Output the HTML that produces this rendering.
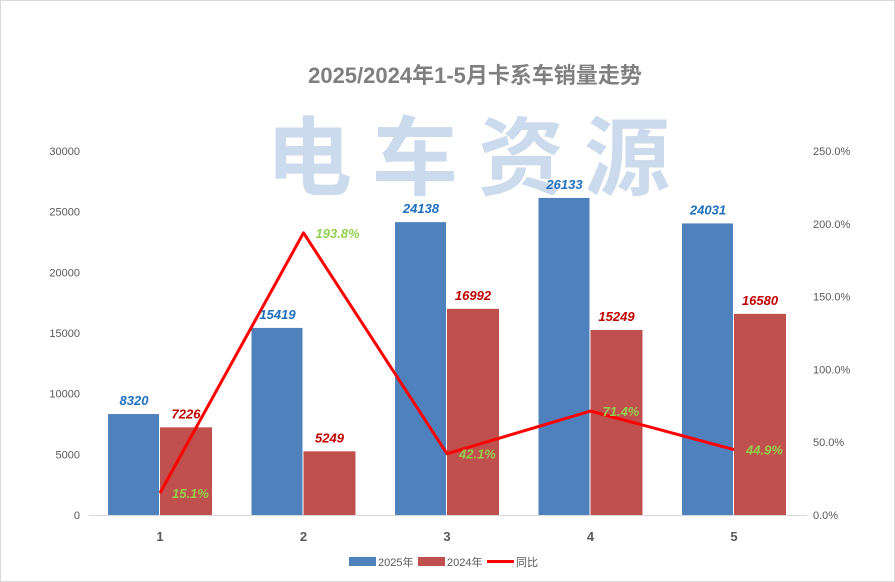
<!DOCTYPE html>
<html><head><meta charset="utf-8"><style>
body{margin:0;background:#fff;}
#c{position:relative;width:895px;height:582px;overflow:hidden;}
svg{position:absolute;left:0;top:0;}
</style></head><body>
<div id="c">
<svg id="s" width="895" height="582" xmlns="http://www.w3.org/2000/svg" font-family="Liberation Sans, Noto Sans CJK SC, sans-serif">
<rect x="0.5" y="0.5" width="894" height="581" fill="#fff" stroke="#d9d9d9"/>
<text x="475" y="83" text-anchor="middle" font-size="22" font-weight="bold" fill="#7f7f7f">2025/2024年1-5月卡系车销量走势</text>
<text x="478" y="188" text-anchor="middle" font-size="86" font-weight="bold" fill="#c9d9ec" opacity="0.95" letter-spacing="20">电车资源</text>
<g id="grid"></g><g id="bars"></g><g id="line"></g><g id="labels"></g>
<g font-size="11" fill="#595959">
<rect x="349" y="557" width="27" height="9" fill="#4f81bd"/>
<text x="378" y="566" fill="#595959">2025年</text>
<rect x="418" y="557" width="27" height="9" fill="#c0504d"/>
<text x="447" y="566" fill="#595959">2024年</text>
<line x1="487" y1="561.5" x2="514" y2="561.5" stroke="#ff0000" stroke-width="3"/>
<text x="516" y="566" fill="#595959">同比</text>
</g>
</svg>
</div>
<script>
const categories=["1","2","3","4","5"];
const sales2025=[8320,15419,24138,26133,24031];
const sales2024=[7226,5249,16992,15249,16580];
const yoy=[15.1,193.8,42.1,71.4,44.9];
const leftTicks=[0,5000,10000,15000,20000,25000,30000];
const rightTicks=[0,50,100,150,200,250];
const NS="http://www.w3.org/2000/svg";
const y0=515,yTop=151;
const yL=v=>y0-(v/30000)*(y0-yTop);
const yR=v=>y0-(v/250)*(y0-yTop);
const xC=i=>160+i*143.5;
function mk(t,a,p,txt){const e=document.createElementNS(NS,t);for(const k in a)e.setAttribute(k,a[k]);if(txt!==undefined)e.textContent=txt;p.appendChild(e);return e;}
const g=document.getElementById('grid'),b=document.getElementById('bars'),l=document.getElementById('line'),lb=document.getElementById('labels');
let ax=mk('line',{x1:89,x2:807,y1:y0+0.5,y2:y0+0.5,stroke:'#d9d9d9'},g);


leftTicks.forEach(v=>{const t=mk('text',{x:80,y:yL(v)+4,'text-anchor':'end','font-size':11,fill:'#595959'},g,String(v));

});
rightTicks.forEach(v=>{const t=mk('text',{x:813,y:yR(v)+4,'font-size':11,fill:'#595959'},g,v.toFixed(1)+'%');

});
categories.forEach((c,i)=>{const t=mk('text',{x:xC(i),y:541,'text-anchor':'middle','font-size':13,'font-weight':'bold',fill:'#595959'},g,c);


const cx=xC(i);
const r1=mk('rect',{x:cx-52,y:yL(sales2025[i]),width:51,height:y0-yL(sales2025[i]),fill:'#4f81bd'},b);


const r2=mk('rect',{x:cx,y:yL(sales2024[i]),width:52,height:y0-yL(sales2024[i]),fill:'#c0504d'},b);


const t1=mk('text',{x:cx-26,y:yL(sales2025[i])-9,'text-anchor':'middle','font-size':13,'font-weight':'bold','font-style':'italic',fill:'#1f6fbf'},lb,String(sales2025[i]));


const t2=mk('text',{x:cx+26,y:yL(sales2024[i])-9,'text-anchor':'middle','font-size':13,'font-weight':'bold','font-style':'italic',fill:'#c00000'},lb,String(sales2024[i]));


const t3=mk('text',{x:cx+12,y:yR(yoy[i])+5,'font-size':13,'font-weight':'bold','font-style':'italic',fill:'#92d050'},lb,yoy[i].toFixed(1)+'%');

});
const pl=mk('polyline',{points:yoy.map((v,i)=>xC(i)+','+yR(v)).join(' '),fill:'none',stroke:'#ff0000','stroke-width':3,'stroke-linejoin':'round'},l);


</script>
</body></html>
